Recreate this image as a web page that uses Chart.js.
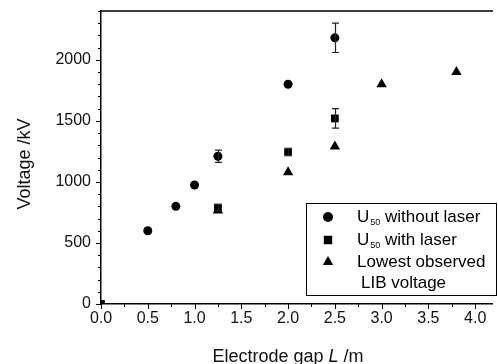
<!DOCTYPE html>
<html lang="en">
  <head>
    <meta charset="UTF-8" />
    <title>Voltage vs electrode gap</title>
    <script src="https://cdn.jsdelivr.net/npm/chart.js"></script>
    <style>
      html, body { margin: 0; padding: 0; background: #fff; }
      #wrap { width: 498px; height: 364px; }
    </style>
  </head>
  <body>
    <div id="wrap"><canvas id="gapChart" width="498" height="364"></canvas></div>
    <script>
      // data
      const gapNoLaser = [0.5, 0.8, 1.0, 1.25, 2.0, 2.5];
      const u50NoLaser = [600, 800, 975, 1210, 1800, 2180];
      const errNoLaser = [0, 0, 0, 50, 0, 120];

      const gapLaser = [0, 1.25, 2.0, 2.5];
      const u50Laser = [0, 790, 1245, 1520];
      const errLaser = [0, 25, 30, 80];

      const gapLib = [1.25, 2.0, 2.5, 3.0, 3.8];
      const libLowest = [765, 1080, 1290, 1800, 1900];

      const xTicks = [0, 0.25, 0.5, 0.75, 1, 1.25, 1.5, 1.75, 2, 2.25, 2.5, 2.75, 3, 3.25, 3.5, 3.75, 4];
      const xLabels = [0, 0.5, 1, 1.5, 2, 2.5, 3, 3.5, 4];
      const yTicks = [0, 100, 200, 300, 400, 500, 600, 700, 800, 900, 1000, 1100, 1200, 1300, 1400,
                      1500, 1600, 1700, 1800, 1900, 2000, 2100, 2200, 2300, 2400];
      const yLabels = [0, 500, 1000, 1500, 2000];

      const FONT = '"Liberation Sans", Arial, sans-serif';

      const toPoints = (xs, ys) => xs.map((x, i) => ({ x: x, y: ys[i] }));

      // error bars, outward tick marks, frame, titles and legend
      const decorPlugin = {
        id: "decor",
        afterDatasetsDraw(chart) {
          const ctx = chart.ctx;
          const xs = chart.scales.x, ys = chart.scales.y;
          ctx.save();
          ctx.strokeStyle = "#222";
          ctx.lineWidth = 1.2;
          chart.data.datasets.forEach((ds) => {
            if (!ds.errors) return;
            ds.data.forEach((p, i) => {
              const e = ds.errors[i];
              if (!e) return;
              const px = Math.round(xs.getPixelForValue(p.x)) + 0.5;
              const y1 = ys.getPixelForValue(p.y + e);
              const y2 = ys.getPixelForValue(p.y - e);
              ctx.beginPath();
              ctx.moveTo(px, y1); ctx.lineTo(px, y2);
              ctx.moveTo(px - 3.5, y1); ctx.lineTo(px + 3.5, y1);
              ctx.moveTo(px - 3.5, y2); ctx.lineTo(px + 3.5, y2);
              ctx.stroke();
            });
          });
          ctx.restore();
        },
        afterDraw(chart) {
          const ctx = chart.ctx;
          const area = chart.chartArea;
          const xs = chart.scales.x, ys = chart.scales.y;
          ctx.save();
          ctx.strokeStyle = "#000";

          // top frame line
          ctx.lineWidth = 1.5;
          ctx.beginPath();
          ctx.moveTo(area.left, area.top);
          ctx.lineTo(area.right + 1, area.top);
          ctx.stroke();

          // tick marks, pointing outward
          ctx.lineWidth = 1;
          ctx.beginPath();
          xTicks.forEach((v) => {
            const px = Math.round(xs.getPixelForValue(v)) + 0.5;
            const len = xLabels.includes(v) ? 5 : 3;
            ctx.moveTo(px, area.bottom);
            ctx.lineTo(px, area.bottom + len);
          });
          yTicks.forEach((v) => {
            const py = Math.round(ys.getPixelForValue(v)) + 0.5;
            const len = yLabels.includes(v) ? 5 : 3;
            ctx.moveTo(area.left, py);
            ctx.lineTo(area.left - len, py);
          });
          ctx.stroke();

          // axis titles
          ctx.fillStyle = "#111";
          ctx.textBaseline = "middle";
          const parts = [
            { t: "Electrode gap ", f: "18px " + FONT },
            { t: "L", f: "italic 18px " + FONT },
            { t: " /m", f: "18px " + FONT },
          ];
          let total = 0;
          parts.forEach((p) => { ctx.font = p.f; total += ctx.measureText(p.t).width; });
          let tx = 288 - total / 2;
          ctx.textAlign = "left";
          parts.forEach((p) => {
            ctx.font = p.f;
            ctx.fillText(p.t, tx, 357);
            tx += ctx.measureText(p.t).width;
          });

          ctx.save();
          ctx.translate(25, 164);
          ctx.rotate(-Math.PI / 2);
          ctx.font = "18px " + FONT;
          ctx.textAlign = "center";
          ctx.fillText("Voltage /kV", 0, 0);
          ctx.restore();

          // legend
          ctx.fillStyle = "#fff";
          ctx.fillRect(306, 203, 191, 93);
          ctx.lineWidth = 1;
          ctx.strokeStyle = "#000";
          ctx.strokeRect(306.5, 203.5, 190, 92);

          ctx.fillStyle = "#000";
          const items = [
            { style: "circle", r: 5, y: 217, main: "U", sub: "50", rest: " without laser" },
            { style: "rect", r: 6, y: 240, main: "U", sub: "50", rest: " with laser" },
            { style: "triangle", r: 6, y: 262, main: "Lowest observed", sub: "", rest: "" },
          ];
          items.forEach((it) => {
            Chart.helpers.drawPoint(ctx, { pointStyle: it.style, radius: it.r, rotation: 0, borderWidth: 0 }, 328, it.y);
            let lx = 357;
            ctx.textAlign = "left";
            ctx.textBaseline = "middle";
            ctx.font = "17px " + FONT;
            ctx.fillText(it.main, lx, it.y);
            lx += ctx.measureText(it.main).width;
            if (it.sub) {
              ctx.font = "9px " + FONT;
              ctx.fillText(it.sub, lx + 1, it.y + 6);
              lx += ctx.measureText(it.sub).width + 1;
              ctx.font = "17px " + FONT;
              ctx.fillText(it.rest, lx, it.y);
            }
          });
          ctx.font = "17px " + FONT;
          ctx.fillText("LIB voltage", 361, 283);
          ctx.restore();
        },
      };

      new Chart(document.getElementById("gapChart"), {
        type: "scatter",
        data: {
          datasets: [
            {
              label: "U50 without laser",
              data: toPoints(gapNoLaser, u50NoLaser),
              errors: errNoLaser,
              pointStyle: "circle",
              pointRadius: 4.5,
              backgroundColor: "#000",
              borderWidth: 0,
            },
            {
              label: "U50 with laser",
              data: toPoints(gapLaser, u50Laser),
              errors: errLaser,
              pointStyle: "rect",
              pointRadius: 5.5,
              backgroundColor: "#000",
              borderWidth: 0,
              clip: 0,
            },
            {
              label: "Lowest observed LIB voltage",
              data: toPoints(gapLib, libLowest),
              pointStyle: "triangle",
              pointRadius: 6,
              backgroundColor: "#000",
              borderWidth: 0,
            },
          ],
        },
        options: {
          responsive: false,
          devicePixelRatio: 1,
          animation: false,
          layout: { padding: { left: 0, top: 11, right: 1, bottom: 0 } },
          plugins: { legend: { display: false }, tooltip: { enabled: false } },
          scales: {
            x: {
              type: "linear",
              min: 0,
              max: 4.18,
              afterBuildTicks: (axis) => { axis.ticks = xLabels.map((v) => ({ value: v })); },
              afterFit: (axis) => {
                axis.height = 60;
                axis.paddingLeft = 0; axis.paddingRight = 0;
                axis.paddingTop = 0; axis.paddingBottom = 0;
              },
              grid: { display: false, drawTicks: false },
              border: { display: true, color: "#000", width: 1.5 },
              ticks: {
                autoSkip: false,
                maxRotation: 0,
                padding: 5,
                color: "#111",
                font: { family: FONT, size: 16 },
                callback: (v) => Number(v).toFixed(1),
              },
            },
            y: {
              type: "linear",
              min: 0,
              max: 2400,
              afterBuildTicks: (axis) => { axis.ticks = yLabels.map((v) => ({ value: v })); },
              afterFit: (axis) => {
                axis.width = 101;
                axis.paddingLeft = 0; axis.paddingRight = 0;
                axis.paddingTop = 0; axis.paddingBottom = 0;
              },
              grid: { display: false, drawTicks: false },
              border: { display: true, color: "#000", width: 1.5 },
              ticks: {
                autoSkip: false,
                padding: 10,
                color: "#111",
                font: { family: FONT, size: 16 },
                callback: (v) => String(v),
              },
            },
          },
        },
        plugins: [decorPlugin],
      });
    </script>
  </body>
</html>
